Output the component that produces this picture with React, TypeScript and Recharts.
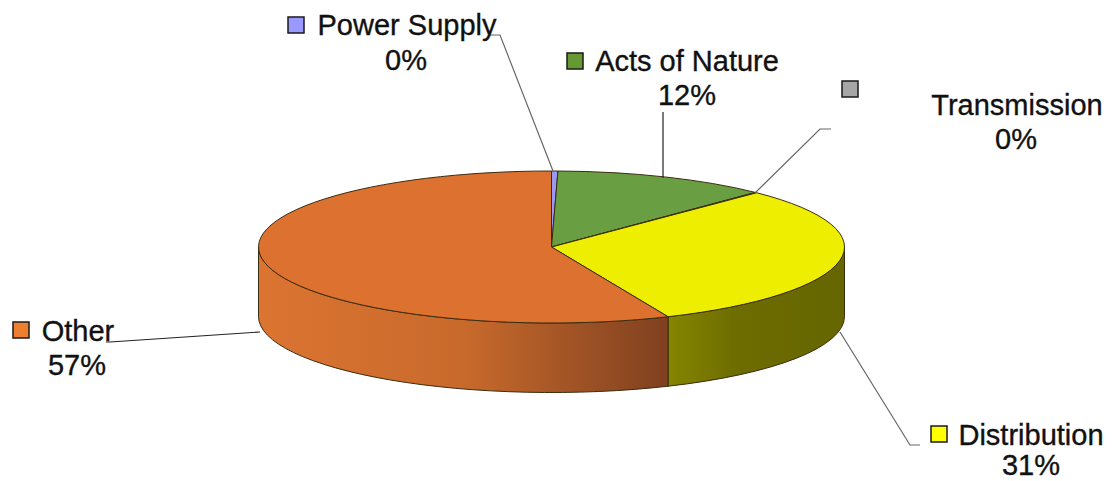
import React from "react";
import { PieChart, Pie } from "recharts";

const categories = ["Power Supply", "Acts of Nature", "Transmission", "Distribution", "Other"];
const shares = [0.35, 11.9, 0.1, 31.14, 56.51];
const topColors = ["#9a9af5", "#6a9e42", "#a6a6a6", "#eeee00", "#dd7230"];
const swatchColors = ["#9999ff", "#669933", "#a6a6a6", "#ffff00", "#ee7f2f"];
const wallStops: string[][] = [
  [], [], [],
  ["#858500", "#6c6c00", "#666600"],
  ["#dc7431", "#c86a2c", "#7f4020"],
];

const rows = categories.map((name, i) => ({ name, value: shares[i] }));

const W = 1116, H = 481;
const CX = 551.5, CY = 247, RX = 293, RY = 76, DEPTH = 69.5;
const SQUASH = RY / RX;

type Lay = { sq: [number, number]; name: [number, number]; pct: [number, number]; line: [number, number][] };
const layout: Lay[] = [
  { sq: [288, 17], name: [407, 35], pct: [406, 70], line: [[553, 171], [500, 35], [489, 35]] },
  { sq: [567, 53], name: [687, 71], pct: [687, 105], line: [[663, 178], [663, 112]] },
  { sq: [842, 81], name: [1017, 115], pct: [1016, 149], line: [[755, 193], [820, 129], [831, 129]] },
  { sq: [931, 426], name: [1031, 445], pct: [1031, 475], line: [[840, 332], [910, 445], [920, 445]] },
  { sq: [13, 322], name: [78, 341], pct: [77, 375], line: [[260, 332], [110, 342], [106, 342]] },
];

const rad = (d: number) => (d * Math.PI) / 180;
const px = (cx: number, r: number, a: number) => cx + r * Math.cos(rad(a));
const py = (cy: number, r: number, a: number) => cy - r * SQUASH * Math.sin(rad(a));

function TopSlice(p: any) {
  const { cx, cy, outerRadius: r, startAngle: a0, endAngle: a1, fill } = p;
  const large = Math.abs(a1 - a0) > 180 ? 1 : 0;
  const d = `M${cx},${cy}L${px(cx, r, a0)},${py(cy, r, a0)}A${r},${r * SQUASH} 0 ${large} 1 ${px(cx, r, a1)},${py(cy, r, a1)}Z`;
  return <path d={d} fill={fill} stroke="#3a2c10" strokeWidth={1} strokeLinejoin="round" />;
}

function WallSlice(p: any) {
  const { cx, cy, outerRadius: r, startAngle, endAngle, index } = p;
  // the visible outer wall is the front half of the disc, angles -180..0
  const hi = Math.min(startAngle, 0);
  const lo = Math.max(endAngle, -180);
  if (hi <= lo) return <g />;
  const x0 = px(cx, r, hi), x1 = px(cx, r, lo);
  const y0 = py(cy, r, hi), y1 = py(cy, r, lo);
  const ry = r * SQUASH;
  const d = `M${x0},${y0}A${r},${ry} 0 0 1 ${x1},${y1}L${x1},${y1 + DEPTH}A${r},${ry} 0 0 0 ${x0},${y0 + DEPTH}Z`;
  const id = `wall-${index}`;
  const stops = wallStops[index];
  const left = Math.min(x0, x1), right = Math.max(x0, x1);
  return (
    <g>
      <defs>
        <linearGradient id={id} gradientUnits="userSpaceOnUse" x1={left} x2={right} y1={0} y2={0}>
          <stop offset="0" stopColor={stops[0]} />
          <stop offset={index === 4 ? "0.5" : "0.4"} stopColor={stops[1]} />
          <stop offset="1" stopColor={stops[2]} />
        </linearGradient>
      </defs>
      <path d={d} fill={`url(#${id})`} stroke="#3a2c10" strokeWidth={1} strokeLinejoin="round" />
    </g>
  );
}

function SliceLabel(p: any) {
  const { index, percent, name } = p;
  const l = layout[index];
  const common = {
    fontFamily: "'Liberation Sans', Arial, sans-serif",
    fontSize: 29,
    fill: "#111",
    stroke: "#111",
    strokeWidth: 0.35,
    textAnchor: "middle" as const,
  };
  return (
    <g>
      <polyline points={l.line.map((q) => q.join(",")).join(" ")} fill="none" stroke={index === 1 || index === 4 ? "#222" : "#666"} strokeWidth={1.2} />
      <rect x={l.sq[0]} y={l.sq[1]} width={16} height={16} fill={swatchColors[index]} stroke="#1a1a1a" strokeWidth={1.5} />
      <text x={l.name[0]} y={l.name[1]} {...common}>{name}</text>
      <text x={l.pct[0]} y={l.pct[1]} {...common}>{`${Math.round(percent * 100)}%`}</text>
    </g>
  );
}

const coloured = rows.map((r, i) => ({ ...r, fill: topColors[i] }));

export default function App() {
  return (
    <div style={{ position: "absolute", left: 0, top: 0, width: W, height: H, background: "#fff", overflow: "hidden" }}>
      <PieChart width={W} height={H} margin={{ top: 0, right: 0, bottom: 0, left: 0 }}>
        <Pie
          data={coloured}
          dataKey="value"
          nameKey="name"
          cx={CX}
          cy={CY}
          innerRadius={0}
          outerRadius={RX}
          startAngle={90}
          endAngle={-270}
          isAnimationActive={false}
          label={false}
          labelLine={false}
          shape={WallSlice}
        />
        <Pie
          data={coloured}
          dataKey="value"
          nameKey="name"
          cx={CX}
          cy={CY}
          innerRadius={0}
          outerRadius={RX}
          startAngle={90}
          endAngle={-270}
          isAnimationActive={false}
          label={SliceLabel}
          labelLine={false}
          shape={TopSlice}
        />
      </PieChart>
    </div>
  );
}
